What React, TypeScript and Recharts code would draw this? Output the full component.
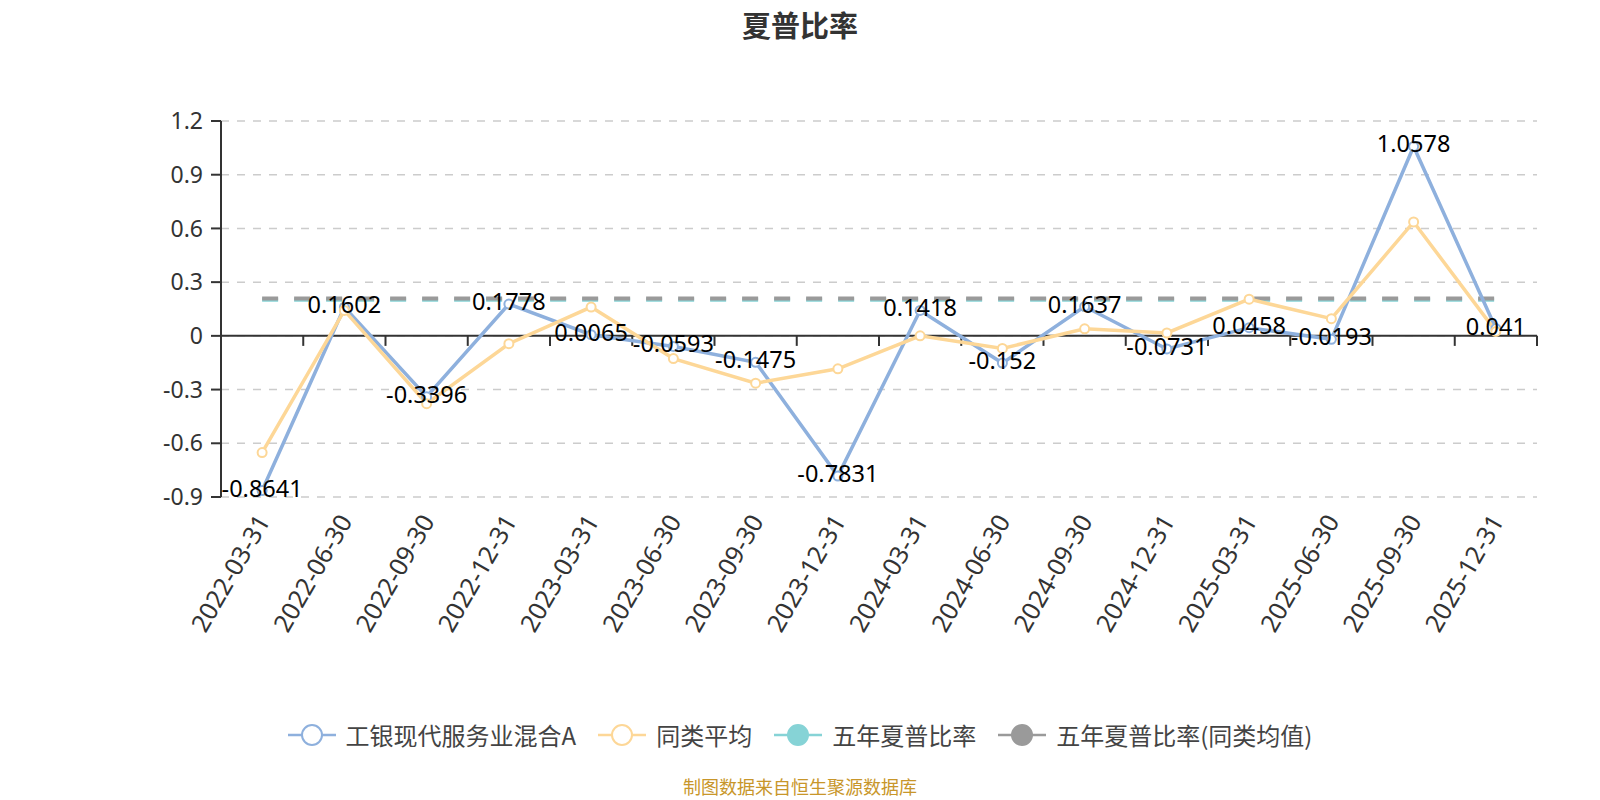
import React from "react";
import {
  LineChart,
  Line,
  XAxis,
  YAxis,
  CartesianGrid,
  ReferenceLine,
  LabelList,
} from "recharts";

// 报告期
const periods = [
  "2022-03-31", "2022-06-30", "2022-09-30", "2022-12-31",
  "2023-03-31", "2023-06-30", "2023-09-30", "2023-12-31",
  "2024-03-31", "2024-06-30", "2024-09-30", "2024-12-31",
  "2025-03-31", "2025-06-30", "2025-09-30", "2025-12-31",
];

// 工银现代服务业混合A
const fundSharpe = [
  -0.8641, 0.1602, -0.3396, 0.1778, 0.0065, -0.0593, -0.1475, -0.7831,
  0.1418, -0.152, 0.1637, -0.0731, 0.0458, -0.0193, 1.0578, 0.041,
];

// 同类平均（图上估读）
const peerAvgSharpe = [
  -0.652, 0.142, -0.379, -0.044, 0.161, -0.127, -0.264, -0.184,
  0.0, -0.07, 0.039, 0.016, 0.205, 0.096, 0.636, 0.025,
];

// 五年夏普比率 / 同类均值
const fiveYearSharpe = 0.202;
const fiveYearPeerSharpe = 0.208;

const yTicks = [-0.9, -0.6, -0.3, 0, 0.3, 0.6, 0.9, 1.2];

const FONT = "'Noto Sans', 'Noto Sans CJK SC', sans-serif";
const BLUE = "#8eb0dd";
const YELLOW = "#fdd797";
const TEAL = "#86d3d6";
const GREY = "#9a9a9a";

const data = periods.map((p, i) => ({
  idx: i,
  date: p,
  fund: fundSharpe[i],
  avg: peerAvgSharpe[i],
  five: fiveYearSharpe,
  fiveAvg: fiveYearPeerSharpe,
}));

// 零轴上的刻度（类目边界）
const boundaries = periods.map((_, i) => i + 0.5);
const zeroTickLen = 0.056;

const DateTick = (props: any) => {
  const { x, y, payload } = props;
  const yy = y + 19;
  return (
    <text
      x={x}
      y={yy}
      transform={`rotate(-60, ${x}, ${yy})`}
      textAnchor="end"
      dominantBaseline="central"
      fontSize={25}
      fill="#333"
      fontFamily={FONT}
    >
      {periods[payload.value]}
    </text>
  );
};

const ValueLabel = (props: any) => {
  const { x, y, value } = props;
  return (
    <text
      x={x}
      y={y - 3}
      textAnchor="middle"
      dominantBaseline="central"
      fontSize={23.5}
      fill="#000"
      fontFamily={FONT}
    >
      {value}
    </text>
  );
};

const legendItems = [
  { name: "工银现代服务业混合A", color: BLUE, filled: false },
  { name: "同类平均", color: YELLOW, filled: false },
  { name: "五年夏普比率", color: TEAL, filled: true },
  { name: "五年夏普比率(同类均值)", color: GREY, filled: true },
];

export default function App() {
  return (
    <div
      style={{
        position: "absolute",
        left: 0,
        top: 0,
        width: 1600,
        height: 800,
        background: "#fff",
        fontFamily: FONT,
        overflow: "hidden",
      }}
    >
      <div
        style={{
          position: "absolute",
          top: 3,
          width: "100%",
          textAlign: "center",
          fontSize: 29,
          fontWeight: "bold",
          color: "#333",
          fontFamily: "'Noto Sans CJK SC', sans-serif",
        }}
      >
        夏普比率
      </div>
      <LineChart
        width={1600}
        height={800}
        data={data}
        margin={{ top: 121, right: 63, left: 0, bottom: 153 }}
      >
        <CartesianGrid
          vertical={false}
          stroke="#ccc"
          strokeWidth={1.5}
          strokeDasharray="8 8"
        />
        <XAxis
          type="number"
          dataKey="idx"
          domain={[-0.5, 15.5]}
          ticks={periods.map((_, i) => i)}
          interval={0}
          axisLine={false}
          tickLine={false}
          tickSize={0}
          tickMargin={0}
          height={150}
          tick={<DateTick />}
        />
        <YAxis
          domain={[-0.9, 1.2]}
          ticks={yTicks}
          interval={0}
          width={221}
          tickSize={10}
          tickMargin={8}
          axisLine={{ stroke: "#333", strokeWidth: 2 }}
          tickLine={{ stroke: "#333", strokeWidth: 2 }}
          tick={{ fontSize: 23, fill: "#333", fontFamily: FONT }}
          tickFormatter={(v: number) => String(Number(v.toFixed(1)))}
        />
        <ReferenceLine y={0} stroke="#333" strokeWidth={2} />
        {boundaries.map((b) => (
          <ReferenceLine
            key={b}
            segment={[
              { x: b, y: 0 },
              { x: b, y: -zeroTickLen },
            ]}
            stroke="#333"
            strokeWidth={2}
          />
        ))}
        <Line
          dataKey="five"
          stroke={TEAL}
          strokeWidth={4}
          strokeDasharray="16 16"
          dot={false}
          isAnimationActive={false}
        />
        <Line
          dataKey="fiveAvg"
          stroke={GREY}
          strokeWidth={4}
          strokeDasharray="16 16"
          dot={false}
          isAnimationActive={false}
        />
        <Line
          dataKey="fund"
          stroke={BLUE}
          strokeWidth={3.5}
          dot={{ r: 4.5, fill: "#fff", stroke: BLUE, strokeWidth: 2 }}
          isAnimationActive={false}
        />
        <Line
          dataKey="avg"
          stroke={YELLOW}
          strokeWidth={3.5}
          dot={{ r: 4.5, fill: "#fff", stroke: YELLOW, strokeWidth: 2 }}
          isAnimationActive={false}
        />
        {/* 标签层置于最上 */}
        <Line
          dataKey="fund"
          stroke="none"
          dot={false}
          activeDot={false}
          isAnimationActive={false}
        >
          <LabelList dataKey="fund" content={<ValueLabel />} />
        </Line>
      </LineChart>
      <div
        style={{
          position: "absolute",
          top: 717,
          width: "100%",
          display: "flex",
          justifyContent: "center",
          alignItems: "center",
          gap: 22,
        }}
      >
        {legendItems.map((it) => (
          <div
            key={it.name}
            style={{ display: "flex", alignItems: "center", gap: 10 }}
          >
            <svg width={48} height={24}>
              <line
                x1={0}
                y1={12}
                x2={48}
                y2={12}
                stroke={it.color}
                strokeWidth={2.5}
              />
              <circle
                cx={24}
                cy={12}
                r={10}
                fill={it.filled ? it.color : "#fff"}
                stroke={it.color}
                strokeWidth={2}
              />
            </svg>
            <span
              style={{
                fontSize: 24,
                color: "#444",
                lineHeight: "36px",
                fontFamily: "'Noto Sans CJK SC', sans-serif",
              }}
            >
              {it.name}
            </span>
          </div>
        ))}
      </div>
      <div
        style={{
          position: "absolute",
          top: 776,
          width: "100%",
          textAlign: "center",
          fontSize: 18,
          lineHeight: "20px",
          color: "#c8962a",
          fontFamily: "'Noto Sans CJK SC', sans-serif",
        }}
      >
        制图数据来自恒生聚源数据库
      </div>
    </div>
  );
}
